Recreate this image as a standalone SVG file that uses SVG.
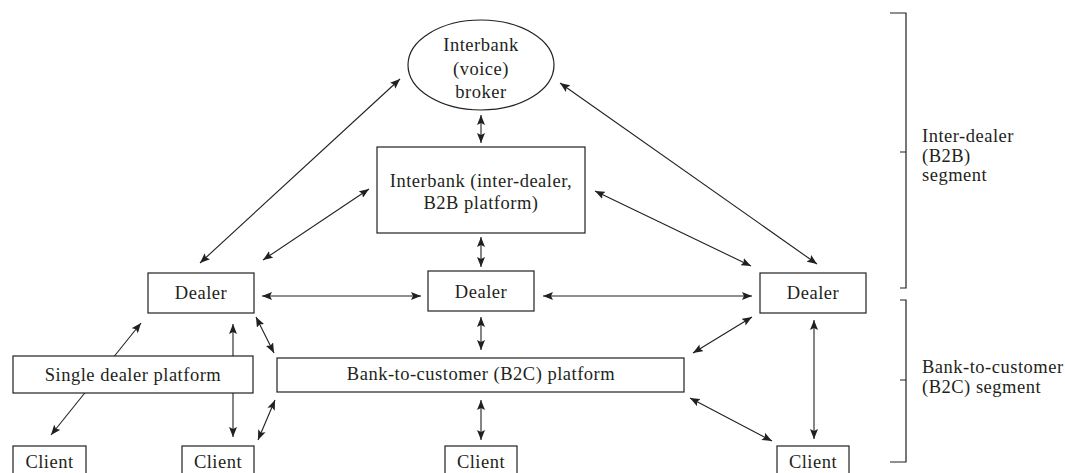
<svg xmlns="http://www.w3.org/2000/svg" width="1065" height="473" viewBox="0 0 1065 473">
<style>
.box{fill:#fff;stroke:#231f20;stroke-width:1.2}
.t{font-family:"Liberation Serif","Times New Roman",serif;font-size:18.5px;letter-spacing:0.5px;fill:#231f20;text-anchor:middle}
.tl{font-family:"Liberation Serif","Times New Roman",serif;font-size:18.5px;letter-spacing:0.5px;fill:#231f20}
.c{stroke:#231f20;stroke-width:1.1;fill:none}
.br{stroke:#231f20;stroke-width:1.2;fill:none}
</style>
<defs>
<marker id="ah" viewBox="0 0 10 8" refX="10" refY="4" markerWidth="10" markerHeight="8" markerUnits="userSpaceOnUse" orient="auto-start-reverse">
<path d="M0,0 L10,4 L0,8 L2,4 z" fill="#231f20"/>
</marker>
</defs>
<g id="connectors">
<line class="c" x1="200" y1="263" x2="400" y2="79" marker-start="url(#ah)" marker-end="url(#ah)"/>
<line class="c" x1="263" y1="260" x2="369" y2="189" marker-start="url(#ah)" marker-end="url(#ah)"/>
<line class="c" x1="817" y1="264" x2="560" y2="83" marker-start="url(#ah)" marker-end="url(#ah)"/>
<line class="c" x1="751" y1="266" x2="595" y2="191" marker-start="url(#ah)" marker-end="url(#ah)"/>
<line class="c" x1="481" y1="115" x2="481" y2="143" marker-start="url(#ah)" marker-end="url(#ah)"/>
<line class="c" x1="481" y1="237" x2="481" y2="267" marker-start="url(#ah)" marker-end="url(#ah)"/>
<line class="c" x1="262" y1="296" x2="421" y2="296" marker-start="url(#ah)" marker-end="url(#ah)"/>
<line class="c" x1="543" y1="296" x2="752" y2="296" marker-start="url(#ah)" marker-end="url(#ah)"/>
<line class="c" x1="481" y1="317" x2="481" y2="350" marker-start="url(#ah)" marker-end="url(#ah)"/>
<line class="c" x1="481" y1="400" x2="481" y2="440" marker-start="url(#ah)" marker-end="url(#ah)"/>
<line class="c" x1="256" y1="317" x2="274" y2="353" marker-start="url(#ah)" marker-end="url(#ah)"/>
<line class="c" x1="275" y1="400" x2="258" y2="440" marker-start="url(#ah)" marker-end="url(#ah)"/>
<line class="c" x1="141" y1="323" x2="51" y2="435" marker-start="url(#ah)" marker-end="url(#ah)"/>
<line class="c" x1="233" y1="324" x2="233" y2="437" marker-start="url(#ah)" marker-end="url(#ah)"/>
<line class="c" x1="752" y1="317" x2="693" y2="353" marker-start="url(#ah)" marker-end="url(#ah)"/>
<line class="c" x1="690" y1="398" x2="772" y2="441" marker-start="url(#ah)" marker-end="url(#ah)"/>
<line class="c" x1="814" y1="320" x2="814" y2="439" marker-start="url(#ah)" marker-end="url(#ah)"/>
</g>
<g id="broker">
<ellipse class="box" cx="481" cy="65" rx="73" ry="45"/>
<text class="t" x="481" y="51">Interbank</text>
<text class="t" x="481" y="75">(voice)</text>
<text class="t" x="481" y="98">broker</text>
</g>
<g id="b2b-platform">
<rect class="box" x="377" y="147" width="208" height="86"/>
<text class="t" x="481" y="187">Interbank (inter-dealer,</text>
<text class="t" x="481" y="209">B2B platform)</text>
</g>
<g id="dealer-left">
<rect class="box" x="148" y="273" width="106" height="40"/>
<text class="t" x="201" y="299">Dealer</text>
</g>
<g id="dealer-center">
<rect class="box" x="428" y="271" width="106" height="40"/>
<text class="t" x="481" y="298">Dealer</text>
</g>
<g id="dealer-right">
<rect class="box" x="760" y="273" width="106" height="40"/>
<text class="t" x="813" y="299">Dealer</text>
</g>
<g id="single-dealer-platform">
<rect class="box" x="13" y="356" width="240" height="37"/>
<text class="t" x="133" y="381">Single dealer platform</text>
</g>
<g id="b2c-platform">
<rect class="box" x="277" y="358" width="407" height="34"/>
<text class="t" x="481" y="380">Bank-to-customer (B2C) platform</text>
</g>
<g id="client-1">
<rect class="box" x="13" y="446" width="73" height="36"/>
<text class="t" x="49.5" y="468">Client</text>
</g>
<g id="client-2">
<rect class="box" x="182" y="446" width="72" height="36"/>
<text class="t" x="218" y="468">Client</text>
</g>
<g id="client-3">
<rect class="box" x="445" y="446" width="72" height="36"/>
<text class="t" x="481" y="468">Client</text>
</g>
<g id="client-4">
<rect class="box" x="777" y="446" width="72" height="36"/>
<text class="t" x="813" y="468">Client</text>
</g>
<g id="segment-b2b">
<path class="br" d="M890,13 H906 V288 H900 M900,152 H906"/>
<text class="tl" x="922" y="142">Inter-dealer</text>
<text class="tl" x="922" y="162">(B2B)</text>
<text class="tl" x="922" y="181">segment</text>
</g>
<g id="segment-b2c">
<path class="br" d="M900,300 H906 V462 H890 M900,380 H906"/>
<text class="tl" x="922" y="373">Bank-to-customer</text>
<text class="tl" x="922" y="393">(B2C) segment</text>
</g>
</svg>
